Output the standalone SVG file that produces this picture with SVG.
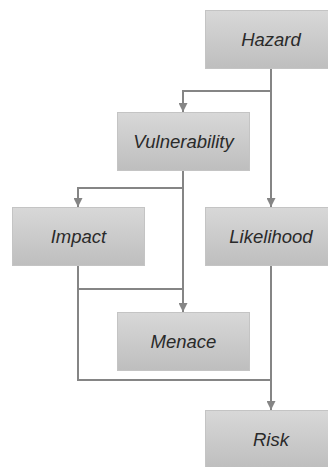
<svg xmlns="http://www.w3.org/2000/svg" width="328" height="467" viewBox="0 0 328 467">
  <defs>
    <linearGradient id="g" x1="0" y1="0" x2="0" y2="1">
      <stop offset="0" stop-color="#d8d8d8"/>
      <stop offset="1" stop-color="#bebebe"/>
    </linearGradient>
    <marker id="arr" viewBox="0 0 10 10" refX="10" refY="5" markerWidth="4.5" markerHeight="4.5" orient="auto" markerUnits="strokeWidth">
      <path d="M0,0 L10,5 L0,10 Z" fill="#858585"/>
    </marker>
    <style>
      .box { fill: url(#g); stroke: #c4c4c4; stroke-width: 1; }
      .lbl { font-family: "Liberation Sans", Arial, sans-serif; font-style: italic; font-size: 18.5px; fill: #2a2a2a; text-anchor: middle; }
      .c { fill: none; stroke: #858585; stroke-width: 2; }
      .a { marker-end: url(#arr); }
    </style>
  </defs>
  <rect width="328" height="467" fill="#ffffff"/>
  <g id="connectors">
    <path class="c a" d="M271,69 V207"/>
    <path class="c a" d="M271,91 H183 V112"/>
    <path class="c a" d="M183,170 V312"/>
    <path class="c a" d="M183,188 H78 V207"/>
    <path class="c" d="M78,265 V380 H271"/>
    <path class="c" d="M78,289 H183"/>
    <path class="c a" d="M271,265 V410"/>
  </g>
  <g id="hazard">
    <rect class="box" x="205.5" y="10.5" width="132" height="58"/>
    <text class="lbl" x="271" y="46">Hazard</text>
  </g>
  <g id="vulnerability">
    <rect class="box" x="117.5" y="112.5" width="132" height="58"/>
    <text class="lbl" x="183.5" y="148">Vulnerability</text>
  </g>
  <g id="impact">
    <rect class="box" x="12.5" y="207.5" width="132" height="58"/>
    <text class="lbl" x="78.5" y="243">Impact</text>
  </g>
  <g id="likelihood">
    <rect class="box" x="205.5" y="207.5" width="132" height="58"/>
    <text class="lbl" x="271" y="243">Likelihood</text>
  </g>
  <g id="menace">
    <rect class="box" x="117.5" y="312.5" width="132" height="58"/>
    <text class="lbl" x="183.5" y="348">Menace</text>
  </g>
  <g id="risk">
    <rect class="box" x="205.5" y="410.5" width="132" height="58"/>
    <text class="lbl" x="271" y="446">Risk</text>
  </g>
</svg>
